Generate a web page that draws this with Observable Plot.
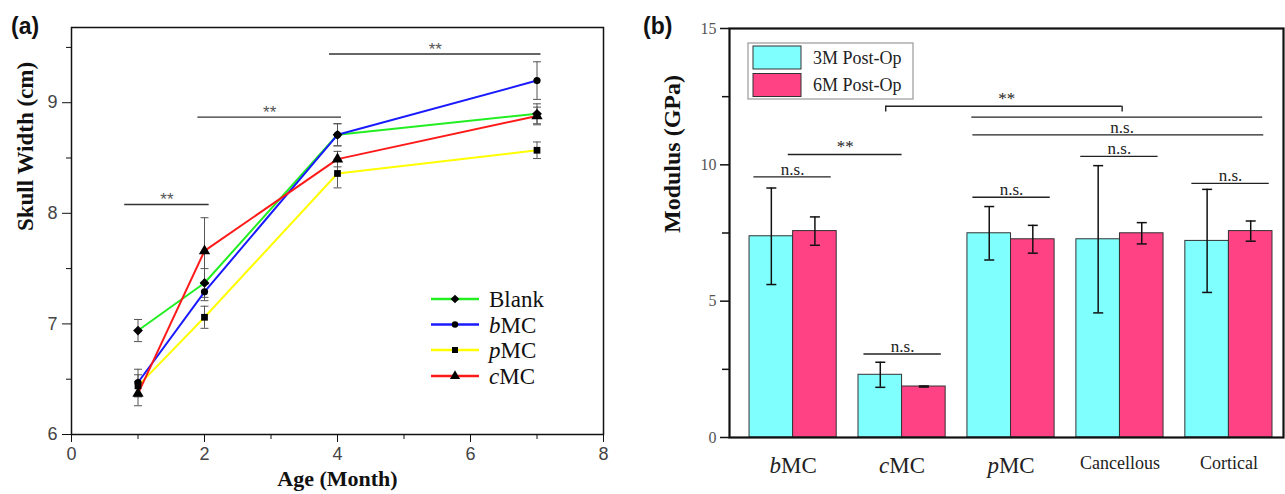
<!DOCTYPE html>
<html><head><meta charset="utf-8">
<script src="https://cdn.jsdelivr.net/npm/d3@7"></script>
<script src="https://cdn.jsdelivr.net/npm/@observablehq/plot@0.6"></script>
<style>
body{margin:0;background:#fff;width:1285px;height:494px;position:relative;overflow:hidden}
#a{position:absolute;left:0;top:0}
#b{position:absolute;left:640px;top:0}
</style></head><body>
<div id="a"></div><div id="b"></div>
<script>
// ---------- Panel (a) data ----------
const ages = [1, 2, 4, 7];
const groupsA = ["Blank", "bMC", "pMC", "cMC"];
const blankMean = [6.94, 7.37, 8.71, 8.90];
const blankErr  = [0.10, 0.13, 0.10, 0.09];
const bmcMean   = [6.47, 7.29, 8.71, 9.20];
const bmcErr    = [0.12, 0.08, 0.10, 0.17];
const pmcMean   = [6.44, 7.06, 8.36, 8.57];
const pmcErr    = [0.10, 0.10, 0.13, 0.075];
const cmcMean   = [6.37, 7.66, 8.49, 8.88];
const cmcErr    = [0.11, 0.30, 0.07, 0.08];
const xTicksA = [0, 2, 4, 6, 8];
const yTicksA = [6, 7, 8, 9];
// significance lines: start, end, height, label
const sigAx1 = [0.80, 1.90, 3.88];
const sigAx2 = [2.07, 4.06, 7.06];
const sigAy  = [8.08, 8.87, 9.44];
const sigAlabel = ["**", "**", "**"];

// ---------- Panel (b) data ----------
const categories = ["bMC", "cMC", "pMC", "Cancellous", "Cortical"];
const seriesB = ["3M Post-Op", "6M Post-Op"];
const mean3M = [7.38, 2.30, 7.49, 7.27, 7.21];
const err3M  = [1.77, 0.46, 0.98, 2.70, 1.89];
const mean6M = [7.57, 1.87, 7.27, 7.49, 7.57];
const err6M  = [0.52, 0.02, 0.51, 0.39, 0.37];
const yTicksB = [0, 5, 10, 15];
const sigBx1 = [0.64, 0.955, 1.65, 2.65, 3.64, 4.66, 2.65, 2.64, 1.85];
const sigBx2 = [1.35, 2.00, 2.36, 3.36, 4.35, 5.37, 5.32, 5.31, 4.02];
const sigBy  = [9.56, 10.38, 3.06, 8.81, 10.31, 9.32, 11.10, 11.75, 12.15];
const sigBlabel = ["n.s.", "**", "n.s.", "n.s.", "n.s.", "n.s.", "n.s.", "", "**"];
const sigBtextX = [null, null, null, null, null, null, 4.02, null, 2.96];
const bracketDrop = 0.21;

// ---------- styles ----------
const SERIF = "'Liberation Serif','Times New Roman',serif";
const SANS = "'Liberation Sans',Arial,sans-serif";
const styleA = {
  Blank: {color: "#22ee22", symbol: "diamond2", r: 4.4},
  bMC:   {color: "#1a1aff", symbol: "circle", r: 3.6},
  pMC:   {color: "#ffff00", symbol: "square", r: 3.8},
  cMC:   {color: "#ff1a1a", symbol: "triangle", r: 4.2}
};
const meansA = {Blank: blankMean, bMC: bmcMean, pMC: pmcMean, cMC: cmcMean};
const errsA  = {Blank: blankErr,  bMC: bmcErr,  pMC: pmcErr,  cMC: cmcErr};
const capSymbol = {draw(ctx, size) { const r = Math.sqrt(size / Math.PI); ctx.moveTo(-r, 0); ctx.lineTo(r, 0); }};

const rowsA = groupsA.flatMap(g => ages.map((a, i) => ({
  group: g, age: a, mean: meansA[g][i],
  lo: meansA[g][i] - errsA[g][i], hi: meansA[g][i] + errsA[g][i]
})));
const sigA = sigAx1.map((x1, i) => ({x1, x2: sigAx2[i], y: sigAy[i], label: sigAlabel[i], xt: (x1 + sigAx2[i]) / 2}));

const marksA = [
  Plot.axisX({ticks: xTicksA, tickSize: 8, tickPadding: 5, tickFormat: d => String(d), label: null, fontSize: 18, fill: "#444", stroke: "#111"}),
  Plot.axisX({ticks: [1, 3, 5, 7], tickSize: 5, tickFormat: () => "", label: null, stroke: "#111"}),
  Plot.axisY({ticks: yTicksA, tickSize: 9, tickPadding: 5, tickFormat: d => String(d), label: null, fontSize: 18, fill: "#444", stroke: "#111"}),
  Plot.axisY({ticks: [6.5, 7.5, 8.5, 9.5], tickSize: 5, tickFormat: () => "", label: null, stroke: "#111"}),
  Plot.frame({stroke: "#111", strokeWidth: 1.5}),
  Plot.ruleY(sigA, {x1: "x1", x2: "x2", y: "y", stroke: "#333", strokeWidth: 1.4}),
  Plot.text(sigA, {x: "xt", y: "y", text: "label", lineAnchor: "bottom", dy: 1, fill: "#555", fontSize: 17, fontFamily: SANS}),
  Plot.ruleX(rowsA, {x: "age", y1: "lo", y2: "hi", stroke: "#555", strokeWidth: 1}),
  Plot.dot(rowsA, {x: "age", y: "lo", symbol: capSymbol, r: 4, stroke: "#555", fill: "none", strokeWidth: 1}),
  Plot.dot(rowsA, {x: "age", y: "hi", symbol: capSymbol, r: 4, stroke: "#555", fill: "none", strokeWidth: 1})
];
for (const g of groupsA) {
  marksA.push(Plot.line(rowsA.filter(d => d.group === g), {x: "age", y: "mean", stroke: styleA[g].color, strokeWidth: 2}));
}
for (const g of groupsA) {
  marksA.push(Plot.dot(rowsA.filter(d => d.group === g), {x: "age", y: "mean", symbol: styleA[g].symbol, r: styleA[g].r, fill: "#000", stroke: "none"}));
}
marksA.push(Plot.text(["Age (Month)"], {frameAnchor: "bottom", dy: 51, fontFamily: SERIF, fontWeight: "bold", fontSize: 22, fill: "#111"}));
marksA.push(Plot.text(["Skull Width (cm)"], {frameAnchor: "left", dx: -46, rotate: -90, fontFamily: SERIF, fontWeight: "bold", fontSize: 23, fill: "#111"}));

const plotA = Plot.plot({
  width: 640, height: 494,
  marginLeft: 71, marginRight: 37, marginTop: 27, marginBottom: 60,
  style: {fontFamily: SANS, background: "#fff", color: "#111", overflow: "visible"},
  x: {domain: [0, 8]},
  y: {domain: [6, 9.68]},
  marks: marksA
});
document.getElementById("a").append(plotA);

// legend (a) + panel tag
{
  const svg = d3.select(plotA);
  svg.append("text").attr("x", 11).attr("y", 34).attr("text-anchor", "start").attr("font-family", SANS).attr("font-weight", "bold").attr("font-size", 23).attr("fill", "#111").text("(a)");
  const lg = svg.append("g").attr("text-anchor", "start");
  const rowY = [299, 324.5, 350, 376];
  groupsA.forEach((g, i) => {
    const y = rowY[i];
    lg.append("line").attr("x1", 431).attr("x2", 479).attr("y1", y).attr("y2", y).attr("stroke", styleA[g].color).attr("stroke-width", 2.5);
    const sym = {diamond2: d3.symbolDiamond2, circle: d3.symbolCircle, square: d3.symbolSquare, triangle: d3.symbolTriangle}[styleA[g].symbol];
    lg.append("path").attr("d", d3.symbol(sym, Math.PI * styleA[g].r * styleA[g].r * 0.8)()).attr("transform", `translate(455,${y})`).attr("fill", "#000");
    const t = lg.append("text").attr("x", 489).attr("y", y).attr("dy", "0.35em").attr("text-anchor", "start").attr("font-family", SERIF).attr("font-size", 23).attr("fill", "#111");
    const m = g.match(/^([bcp])(MC)$/);
    if (m) { t.append("tspan").attr("font-style", "italic").text(m[1]); t.append("tspan").text(m[2]); }
    else t.text(g);
  });
}

// ---------- Panel (b) ----------
const barW = 0.4;
const rowsB = categories.flatMap((c, i) => [
  {cat: c, s: seriesB[0], x1: i + 1 - barW, x2: i + 1, xc: i + 1 - barW / 2, mean: mean3M[i], lo: mean3M[i] - err3M[i], hi: mean3M[i] + err3M[i]},
  {cat: c, s: seriesB[1], x1: i + 1, x2: i + 1 + barW, xc: i + 1 + barW / 2, mean: mean6M[i], lo: mean6M[i] - err6M[i], hi: mean6M[i] + err6M[i]}
]);
const colorB = {"3M Post-Op": "#80ffff", "6M Post-Op": "#ff4284"};
const sigB = sigBx1.map((x1, i) => ({
  x1, x2: sigBx2[i], y: sigBy[i], label: sigBlabel[i],
  xt: sigBtextX[i] != null ? sigBtextX[i] : (x1 + sigBx2[i]) / 2
}));
const bracketB = [sigB[8]].flatMap(d => [{x: d.x1, y1: d.y - bracketDrop, y2: d.y}, {x: d.x2, y1: d.y - bracketDrop, y2: d.y}]);

const plotB = Plot.plot({
  width: 645, height: 494,
  marginLeft: 89, marginRight: 2, marginTop: 28, marginBottom: 57,
  style: {fontFamily: SERIF, background: "#fff", color: "#111", overflow: "visible"},
  x: {domain: [0.416, 5.501]},
  y: {domain: [0, 15]},
  marks: [
    Plot.rectY(rowsB.filter(d => d.s === seriesB[0]), {x1: "x1", x2: "x2", y: "mean", fill: colorB[seriesB[0]], stroke: "#333", strokeWidth: 1}),
    Plot.rectY(rowsB.filter(d => d.s === seriesB[1]), {x1: "x1", x2: "x2", y: "mean", fill: colorB[seriesB[1]], stroke: "#333", strokeWidth: 1}),
    Plot.ruleX(rowsB, {x: "xc", y1: "lo", y2: "hi", stroke: "#111", strokeWidth: 1.5}),
    Plot.dot(rowsB, {x: "xc", y: "lo", symbol: capSymbol, r: 5, stroke: "#111", fill: "none", strokeWidth: 1.5}),
    Plot.dot(rowsB, {x: "xc", y: "hi", symbol: capSymbol, r: 5, stroke: "#111", fill: "none", strokeWidth: 1.5}),
    Plot.ruleY(sigB, {x1: "x1", x2: "x2", y: "y", stroke: "#222", strokeWidth: 1.4}),
    Plot.ruleX(bracketB, {x: "x", y1: "y1", y2: "y2", stroke: "#222", strokeWidth: 1.4}),
    Plot.text(sigB, {x: "xt", y: "y", text: "label", lineAnchor: "bottom", dy: -2, fill: "#222", fontSize: 17, fontFamily: SERIF}),
    Plot.axisY({ticks: yTicksB, tickSize: 9, tickPadding: 4, tickFormat: d => String(d), label: null, fontSize: 16, fill: "#555", stroke: "#111", strokeWidth: 1.5}),
    Plot.axisY({ticks: [2.5, 7.5, 12.5], tickSize: 7, tickFormat: () => "", label: null, stroke: "#111", strokeWidth: 1.5}),
    Plot.axisX({ticks: [1, 2, 3, 4, 5], tickSize: 0, tickPadding: 19, tickFormat: d => categories[d - 1], label: null, fontSize: 18, fill: "#222"}),
    Plot.frame({stroke: "#111", strokeWidth: 2.2}),
    Plot.text(["Modulus (GPa)"], {frameAnchor: "left", dx: -57, rotate: -90, fontFamily: SERIF, fontWeight: "bold", fontSize: 24, fill: "#111"})
  ]
});
document.getElementById("b").append(plotB);

{
  const svg = d3.select(plotB);
  svg.selectAll('g[aria-label="x-axis tick label"] text').each(function() {
    const el = d3.select(this);
    const s = el.text();
    const m = s.match(/^([bcp])(MC)$/);
    if (m) {
      el.text("");
      el.attr("font-size", 23);
      el.append("tspan").attr("font-style", "italic").text(m[1]);
      el.append("tspan").text(m[2]);
    }
  });
  svg.append("text").attr("x", 3).attr("y", 34).attr("text-anchor", "start").attr("font-family", SANS).attr("font-weight", "bold").attr("font-size", 23).attr("fill", "#111").text("(b)");
  const lg = svg.append("g").attr("text-anchor", "start");
  lg.append("rect").attr("x", 108).attr("y", 43).attr("width", 165).attr("height", 56).attr("fill", "#fff").attr("stroke", "#999").attr("stroke-width", 1.2);
  const rowY = [57.5, 85];
  seriesB.forEach((s, i) => {
    lg.append("rect").attr("x", 113).attr("y", rowY[i] - 11.5).attr("width", 48).attr("height", 23).attr("fill", colorB[s]).attr("stroke", "#333").attr("stroke-width", 1);
    lg.append("text").attr("x", 173).attr("y", rowY[i]).attr("dy", "0.35em").attr("text-anchor", "start").attr("font-family", SERIF).attr("font-size", 18).attr("fill", "#222").text(s);
  });
}
</script>
</body></html>
